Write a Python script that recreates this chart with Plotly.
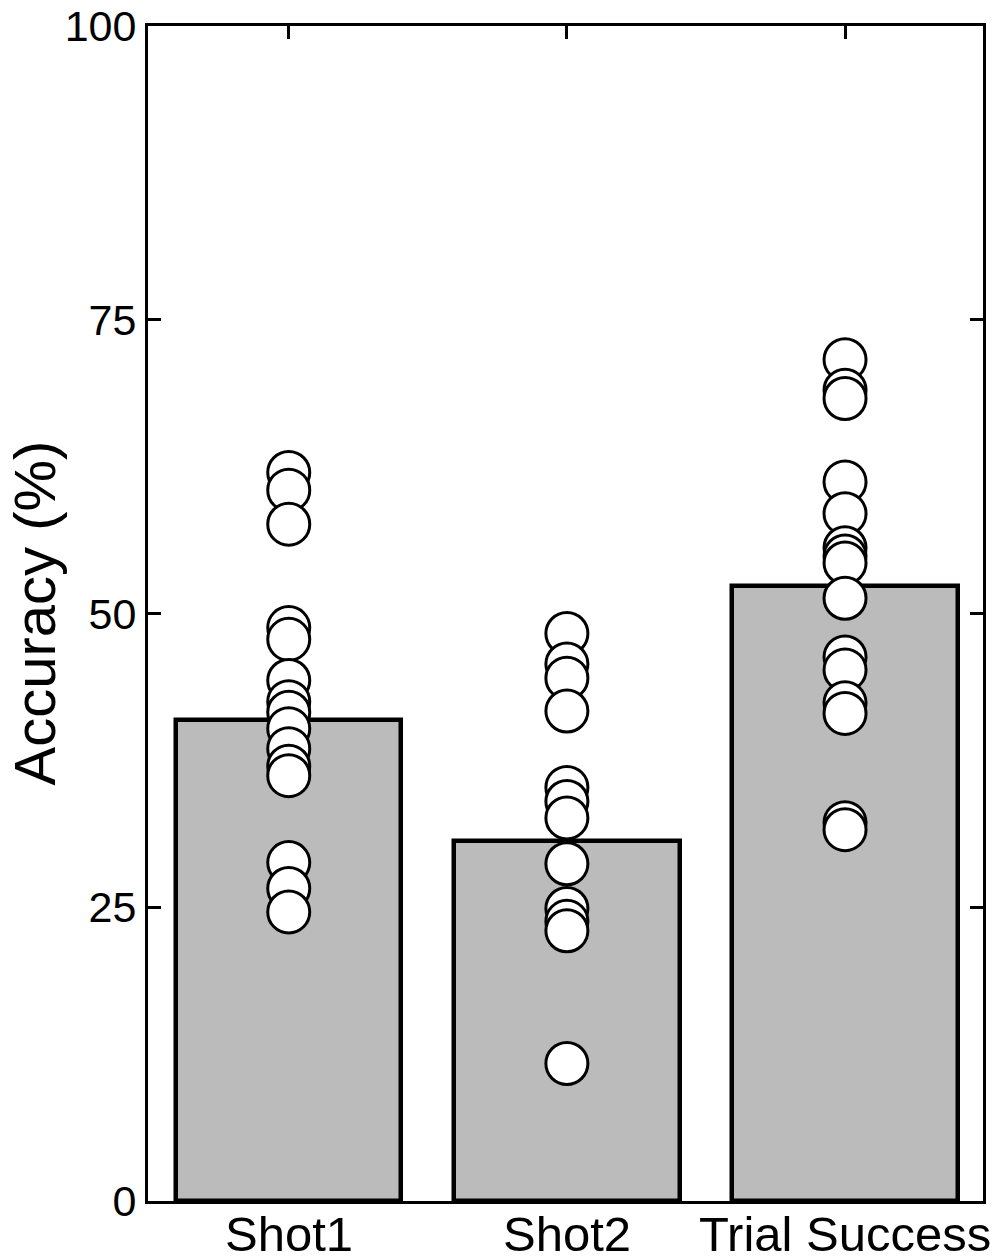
import plotly.graph_objects as go

categories = ["Shot1", "Shot2", "Trial Success"]
bar_means = [40.9, 30.6, 52.3]

shot1_points = [62.0, 60.5, 57.6, 48.8, 47.8, 44.3, 42.5, 41.6, 40.2, 38.5, 37.0, 36.2, 28.8, 26.6, 24.6]
shot2_points = [48.3, 45.7, 44.5, 41.7, 35.2, 34.0, 32.6, 28.7, 24.9, 23.8, 23.0, 11.7]
trial_points = [71.6, 69.0, 68.3, 61.2, 58.5, 55.6, 54.9, 54.3, 51.3, 46.3, 45.2, 42.4, 41.5, 32.2, 31.6]

y_ticks = [0, 25, 50, 75, 100]

point_groups = [shot1_points, shot2_points, trial_points]
xs, ys = [], []
for i, pts in enumerate(point_groups):
    xs += [i] * len(pts)
    ys += pts

fig = go.Figure()
fig.add_trace(go.Bar(
    x=list(range(len(categories))), y=bar_means, width=0.81,
    marker=dict(color="#bbbbbb", line=dict(color="black", width=4.5)),
    showlegend=False, hoverinfo="skip",
))
fig.add_trace(go.Scatter(
    x=xs, y=ys, mode="markers",
    marker=dict(size=42, color="white", line=dict(color="black", width=3)),
    showlegend=False,
))
# invisible trace to activate top axis
fig.add_trace(go.Scatter(x=[0], y=[0], xaxis="x2", mode="markers",
                         marker=dict(opacity=0), showlegend=False, hoverinfo="skip"))

font = dict(family="Liberation Sans, Arial, sans-serif", color="black")

annotations = []
for i, cat in enumerate(categories):
    annotations.append(dict(
        x=i, xref="x", y=0, yref="paper", yanchor="top", xanchor="center",
        text=cat, showarrow=False, yshift=-4, font=dict(size=49, **font),
    ))
annotations.append(dict(
    x=0, xref="paper", y=0.5, yref="paper", xanchor="center", yanchor="middle",
    xshift=-114, text="Accuracy (%)", textangle=-90, showarrow=False,
    font=dict(size=58, **font),
))

x_range = [-0.506, 2.496]

fig.update_layout(
    width=992, height=1250,
    margin=dict(l=140, r=17, t=18, b=57, autoexpand=False),
    paper_bgcolor="white", plot_bgcolor="white",
    font=font,
    bargap=0,
    annotations=annotations,
    xaxis=dict(
        range=x_range, tickmode="array",
        tickvals=list(range(len(categories))),
        ticks="", showticklabels=False, showline=True, linecolor="black",
        linewidth=3, mirror=True, automargin=False,
        showgrid=False, zeroline=False,
    ),
    xaxis2=dict(
        range=x_range, overlaying="x", side="top",
        tickmode="array", tickvals=list(range(len(categories))),
        ticks="inside", ticklen=13, tickwidth=3, tickcolor="black",
        showticklabels=False, showline=False, showgrid=False, zeroline=False,
        automargin=False,
    ),
    yaxis=dict(
        range=[0, 100], tickmode="array", tickvals=y_ticks,
        ticks="inside", ticklen=13, tickwidth=3, tickcolor="black",
        showline=True, linecolor="black", linewidth=3, mirror="ticks",
        showgrid=False, zeroline=False, tickfont=dict(size=43, **font),
        ticklabeloverflow="allow", automargin=False,
    ),
)

fig.write_html("out.html")
